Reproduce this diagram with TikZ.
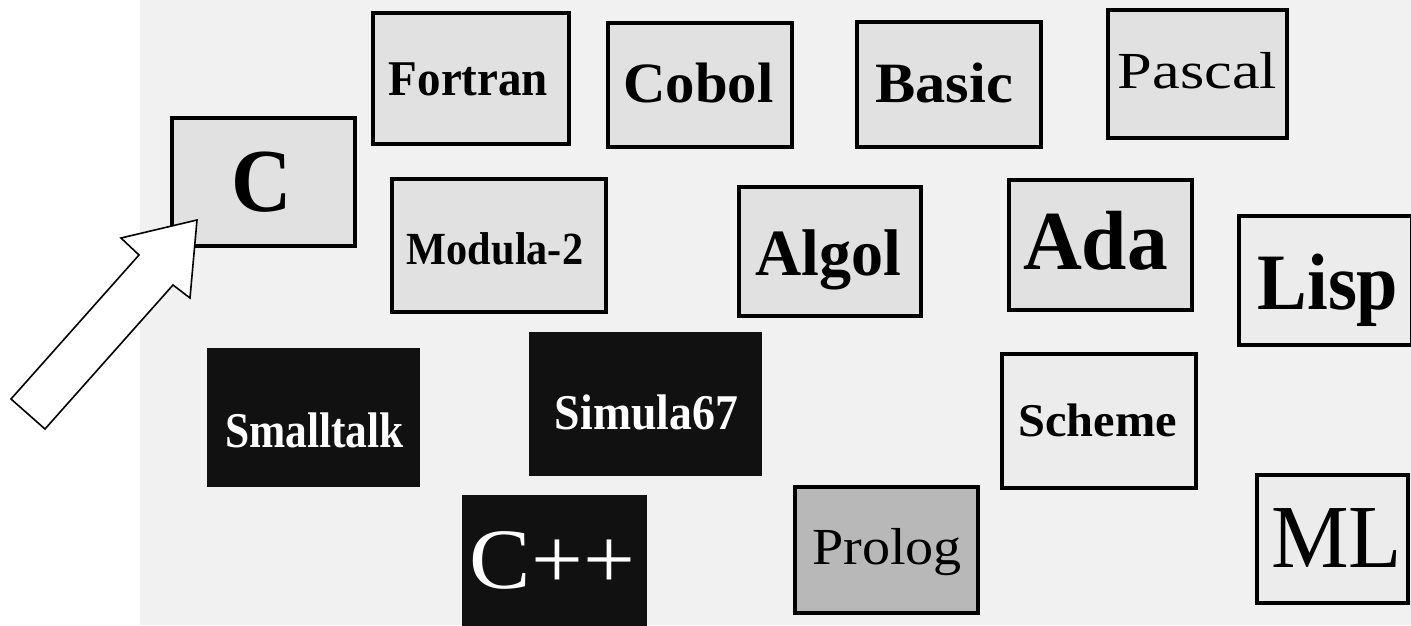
\documentclass[tikz,border=0pt]{standalone}
\usepackage{fontspec}
\setmainfont{Liberation Serif}
\usepackage{graphicx}
\definecolor{bgpat}{HTML}{F1F1F1}
\definecolor{boxA}{HTML}{E1E1E1}
\definecolor{boxB}{HTML}{ECECEC}
\definecolor{boxP}{HTML}{B8B8B8}
\definecolor{boxK}{HTML}{111111}
\tikzset{
  lbox/.style={draw=black, line width=3.6pt, inner sep=0pt},
  dbox/.style={draw=none, fill=boxK, inner sep=0pt},
  lab/.style={anchor=base, inner sep=0pt, outer sep=0pt},
}
\newcommand{\bx}[6]{% name, style, x1,y1,x2,y2 (outer edges of the border)
  \node[#2, minimum width={#5-#3-3.6}, minimum height={#6-#4-3.6}] (#1) at ({(#3+#5)/2},{(#4+#6)/2}) {};}
\newcommand{\dbx}[5]{% name, x1,y1,x2,y2 (no border)
  \node[dbox, minimum width={#4-#2}, minimum height={#5-#3}] (#1) at ({(#2+#4)/2},{(#3+#5)/2}) {};}
\begin{document}
\begin{tikzpicture}[x=1pt,y=-1pt]
\useasboundingbox (0,0) rectangle (1411,625);
\fill[white] (0,0) rectangle (1411,625);
\fill[bgpat] (140,0) rectangle (1411,625);
% boxes
\bx{fortran}{lbox,fill=boxA}{371}{11}{571}{146}
\bx{cobol}{lbox,fill=boxA}{606}{21}{794}{149}
\bx{basic}{lbox,fill=boxA}{855}{20}{1043}{149}
\bx{pascal}{lbox,fill=boxA}{1106}{8}{1289}{140}
\bx{c}{lbox,fill=boxA}{170}{116}{357}{248}
\bx{modula}{lbox,fill=boxA}{390}{177}{608}{314}
\bx{algol}{lbox,fill=boxA}{737}{185}{923}{318}
\bx{ada}{lbox,fill=boxA}{1007}{178}{1194}{312}
\bx{lisp}{lbox,fill=boxB}{1237}{214}{1414}{347}
\bx{scheme}{lbox,fill=boxB}{1000}{352}{1198}{490}
\bx{ml}{lbox,fill=boxB}{1255}{473}{1410}{605}
\bx{prolog}{lbox,fill=boxP}{793}{485}{980}{615}
\dbx{smalltalk}{207}{348}{420}{487}
\dbx{simula}{529}{332}{762}{476}
\dbx{cpp}{462}{495}{647}{630}
% labels
\node[lab] (tfortran) at (468.5,95) {\scalebox{0.94}[1]{\fontsize{50}{50}\selectfont\bfseries Fortran}};
\node[lab] (tcobol) at (698.5,102) {\scalebox{1.03}[1]{\fontsize{57}{57}\selectfont\bfseries Cobol}};
\node[lab] (tbasic) at (944,102) {\scalebox{1.06}[1]{\fontsize{57}{57}\selectfont\bfseries Basic}};
\node[lab] (tpascal) at (1197.5,88) {\scalebox{1.2}[1]{\fontsize{52}{52}\selectfont Pascal}};
\node[lab] (tc) at (261.5,211) {\scalebox{0.93}[1]{\fontsize{90}{90}\selectfont\bfseries C}};
\node[lab] (tmodula) at (495,264) {\scalebox{0.92}[1]{\fontsize{46}{46}\selectfont\bfseries Modula-2}};
\node[lab] (talgol) at (828,275) {\scalebox{0.97}[1]{\fontsize{66}{66}\selectfont\bfseries Algol}};
\node[lab] (tada) at (1095.5,269) {\scalebox{0.97}[1]{\fontsize{84}{84}\selectfont\bfseries Ada}};
\node[lab] (tlisp) at (1328,309) {\scalebox{0.93}[1]{\fontsize{80}{80}\selectfont\bfseries Lisp}};
\node[lab] (tscheme) at (1097.5,436) {\scalebox{1.03}[1]{\fontsize{47}{47}\selectfont\bfseries Scheme}};
\node[lab] (tml) at (1336.5,567) {\scalebox{0.97}[1]{\fontsize{90}{90}\selectfont ML}};
\node[lab] (tprolog) at (887,564) {\scalebox{1.08}[1]{\fontsize{52}{52}\selectfont Prolog}};
\node[lab,text=white] (tsmalltalk) at (314.5,447) {\scalebox{0.87}[1]{\fontsize{50}{50}\selectfont\bfseries Smalltalk}};
\node[lab,text=white] (tsimula) at (646.5,429) {\scalebox{0.915}[1]{\fontsize{50}{50}\selectfont\bfseries Simula67}};
\node[lab,text=white] (tcpp) at (552.5,588) {\scalebox{1.07}[1]{\fontsize{86}{86}\selectfont C++}};
% block arrow
\draw[fill=white, line width=1.6pt, line join=miter]
  (197,220) -- (121,238) -- (139,255) -- (11,399) -- (45,429) -- (173,285) -- (190,298) -- cycle;
\end{tikzpicture}
\end{document}
